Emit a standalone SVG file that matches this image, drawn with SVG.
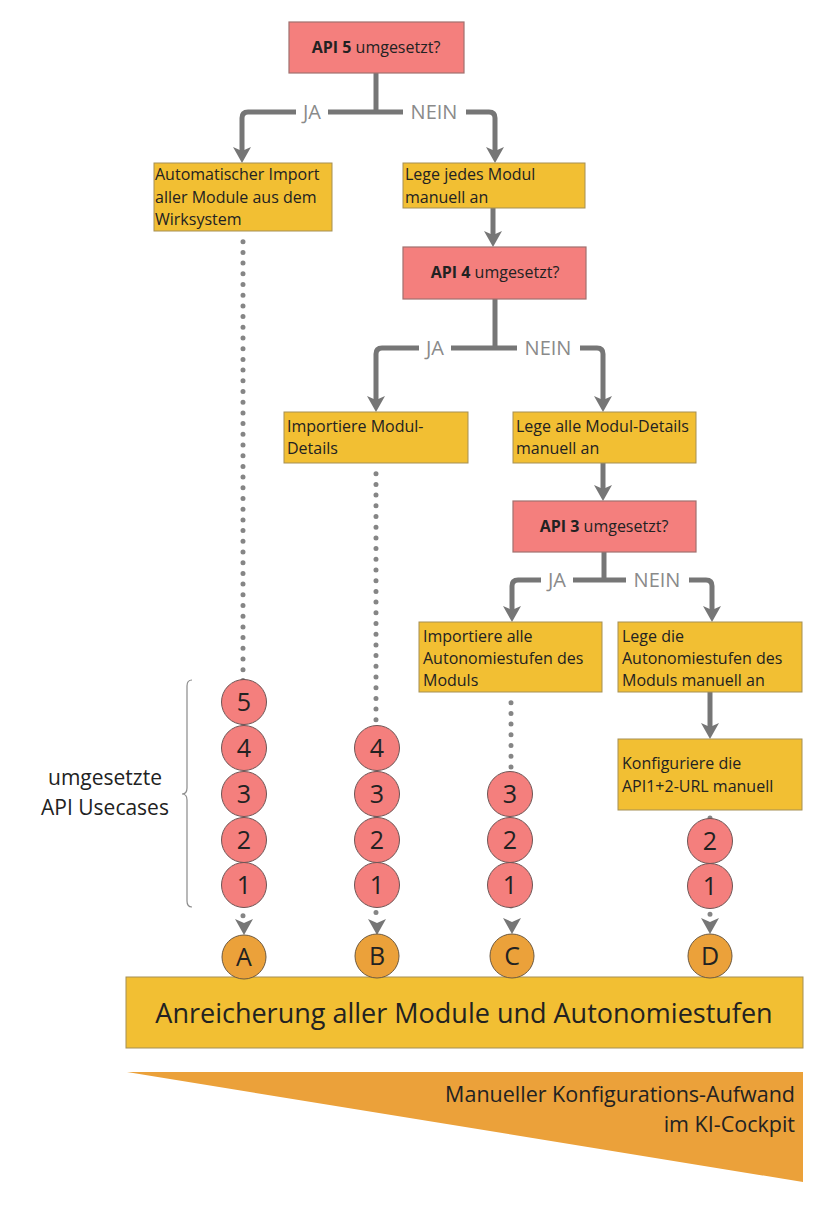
<svg xmlns="http://www.w3.org/2000/svg" width="836" height="1209" viewBox="0 0 836 1209">
<defs>
<style>
.q{fill:#F47F7D;stroke:#A0706E;stroke-width:1.2}
.y{fill:#F2BF33;stroke:#A58F55;stroke-width:1}
.r{fill:#F47F7D;stroke:#6E5555;stroke-width:1}
.o{fill:#EBA13A;stroke:#6E5A40;stroke-width:1}
.t{font-family:"Open Sans","Liberation Sans",sans-serif;font-size:16px;fill:#222}
.b{font-weight:bold}
.n{font-family:"Open Sans","Liberation Sans",sans-serif;font-size:25px;fill:#222;text-anchor:middle}
.lbl{font-family:"Open Sans","Liberation Sans",sans-serif;font-size:20px;fill:#8A8A8A;text-anchor:middle}
.c{fill:none;stroke:#767676;stroke-width:5;stroke-linejoin:round}
.d{fill:none;stroke:#858585;stroke-width:5;stroke-linecap:round;stroke-dasharray:0 10.7}
</style>
<marker id="ah" markerUnits="userSpaceOnUse" markerWidth="16" markerHeight="18" viewBox="0 0 16 18" refX="8" refY="9" orient="auto">
<path d="M0,0 L16,9 L0,18 L4,9 Z" fill="#767676"/>
</marker>
</defs>
<rect width="836" height="1209" fill="#fff"/>

<g id="connectors">
<path class="c" d="M376,73 V112"/>
<path class="c" d="M376,112 H248 Q242,112 242,118 V155" marker-end="url(#ah)"/>
<path class="c" d="M376,112 H489 Q495,112 495,118 V155" marker-end="url(#ah)"/>
<rect x="296" y="98" width="32" height="28" fill="#fff"/>
<rect x="403" y="98" width="63" height="28" fill="#fff"/>
<text class="lbl" x="312" y="119">JA</text>
<text class="lbl" x="434" y="119">NEIN</text>

<path class="c" d="M493,208 V239" marker-end="url(#ah)"/>

<path class="c" d="M495,299 V348"/>
<path class="c" d="M495,348 H382 Q376,348 376,354 V404" marker-end="url(#ah)"/>
<path class="c" d="M495,348 H597 Q603,348 603,354 V404" marker-end="url(#ah)"/>
<rect x="419" y="334" width="32" height="28" fill="#fff"/>
<rect x="517" y="334" width="63" height="28" fill="#fff"/>
<text class="lbl" x="435" y="355">JA</text>
<text class="lbl" x="548" y="355">NEIN</text>

<path class="c" d="M603,463 V493" marker-end="url(#ah)"/>

<path class="c" d="M604,552 V580"/>
<path class="c" d="M604,580 H518 Q512,580 512,586 V614" marker-end="url(#ah)"/>
<path class="c" d="M604,580 H706 Q712,580 712,586 V614" marker-end="url(#ah)"/>
<rect x="541" y="566" width="32" height="28" fill="#fff"/>
<rect x="626" y="566" width="63" height="28" fill="#fff"/>
<text class="lbl" x="557" y="587">JA</text>
<text class="lbl" x="657" y="587">NEIN</text>

<path class="c" d="M710,692 V731" marker-end="url(#ah)"/>

<path class="d" d="M243,241.7 V916" />
<path class="c" d="M244,925 V927" marker-end="url(#ah)"/>
<path class="d" d="M376,473.7 V916" />
<path class="c" d="M377,925 V927" marker-end="url(#ah)"/>
<path class="d" d="M511,702.7 V916" />
<path class="c" d="M512,924 V926" marker-end="url(#ah)"/>
<path class="d" d="M710,818 V916" />
<path class="c" d="M710,924 V926" marker-end="url(#ah)"/>
</g>

<g id="q-api5"><rect class="q" x="289" y="22" width="175" height="51"/>
<text class="t" x="376" y="53" text-anchor="middle"><tspan class="b">API 5</tspan> umgesetzt?</text></g>
<g id="a-import-all"><rect class="y" x="154" y="163" width="178" height="68"/>
<text class="t" x="156"><tspan x="155" y="180">Automatischer Import</tspan><tspan x="155" y="203">aller Module aus dem</tspan><tspan x="155" y="225">Wirksystem</tspan></text></g>
<g id="a-manual-module"><rect class="y" x="403" y="163" width="182" height="45"/>
<text class="t"><tspan x="405" y="180">Lege jedes Modul</tspan><tspan x="405" y="203">manuell an</tspan></text></g>

<g id="q-api4"><rect class="q" x="403" y="247" width="183" height="52"/>
<text class="t" x="495" y="278" text-anchor="middle"><tspan class="b">API 4</tspan> umgesetzt?</text></g>
<g id="b-import-details"><rect class="y" x="284" y="412" width="184" height="51"/>
<text class="t"><tspan x="287" y="432">Importiere Modul-</tspan><tspan x="287" y="454">Details</tspan></text></g>
<g id="b-manual-details"><rect class="y" x="513" y="412" width="183" height="51"/>
<text class="t"><tspan x="516" y="432">Lege alle Modul-Details</tspan><tspan x="516" y="454">manuell an</tspan></text></g>

<g id="q-api3"><rect class="q" x="513" y="501" width="183" height="51"/>
<text class="t" x="604" y="532" text-anchor="middle"><tspan class="b">API 3</tspan> umgesetzt?</text></g>
<g id="c-import-levels"><rect class="y" x="419" y="622" width="183" height="70"/>
<text class="t"><tspan x="423" y="642">Importiere alle</tspan><tspan x="423" y="664">Autonomiestufen des</tspan><tspan x="423" y="686">Moduls</tspan></text></g>
<g id="c-manual-levels"><rect class="y" x="618" y="622" width="184" height="70"/>
<text class="t"><tspan x="622" y="642">Lege die</tspan><tspan x="622" y="664">Autonomiestufen des</tspan><tspan x="622" y="686">Moduls manuell an</tspan></text></g>
<g id="d-config-url"><rect class="y" x="618" y="739" width="184" height="71"/>
<text class="t"><tspan x="622" y="769">Konfiguriere die</tspan><tspan x="622" y="792">API1+2-URL manuell</tspan></text></g>

<g id="col-a">
<circle class="r" cx="244" cy="702" r="22.5"/><text class="n" x="244" y="711">5</text>
<circle class="r" cx="244" cy="748" r="22.5"/><text class="n" x="244" y="757">4</text>
<circle class="r" cx="244" cy="794" r="22.5"/><text class="n" x="244" y="803">3</text>
<circle class="r" cx="244" cy="840" r="22.5"/><text class="n" x="244" y="849">2</text>
<circle class="r" cx="244" cy="885" r="22.5"/><text class="n" x="244" y="894">1</text>
</g>
<g id="col-b">
<circle class="r" cx="377" cy="748" r="22.5"/><text class="n" x="377" y="757">4</text>
<circle class="r" cx="377" cy="794" r="22.5"/><text class="n" x="377" y="803">3</text>
<circle class="r" cx="377" cy="840" r="22.5"/><text class="n" x="377" y="849">2</text>
<circle class="r" cx="377" cy="885" r="22.5"/><text class="n" x="377" y="894">1</text>
</g>
<g id="col-c">
<circle class="r" cx="510" cy="794" r="22.5"/><text class="n" x="510" y="803">3</text>
<circle class="r" cx="510" cy="840" r="22.5"/><text class="n" x="510" y="849">2</text>
<circle class="r" cx="510" cy="885" r="22.5"/><text class="n" x="510" y="894">1</text>
</g>
<g id="col-d">
<circle class="r" cx="710" cy="841" r="22.5"/><text class="n" x="710" y="850">2</text>
<circle class="r" cx="710" cy="886" r="22.5"/><text class="n" x="710" y="895">1</text>
</g>

<g id="brace">
<path d="M192,680 Q187,680 187,686 V788 Q187,794 182,794 Q187,794 187,800 V901 Q187,907 192,907" fill="none" stroke="#8A8A8A" stroke-width="1.2"/>
<text font-family="Open Sans, Liberation Sans, sans-serif" font-size="21" fill="#222" text-anchor="middle"><tspan x="105" y="785">umgesetzte</tspan><tspan x="105" y="815">API Usecases</tspan></text>
</g>

<g id="result">
<rect class="y" x="126" y="977" width="677" height="71" stroke="#8A8A70"/>
<text font-family="Open Sans, Liberation Sans, sans-serif" font-size="27" fill="#222" text-anchor="middle" x="464" y="1023">Anreicherung aller Module und Autonomiestufen</text>
</g>

<g id="endpoints">
<circle class="o" cx="244" cy="957" r="22"/><text class="n" x="244" y="966">A</text>
<circle class="o" cx="377" cy="956" r="22"/><text class="n" x="377" y="965">B</text>
<circle class="o" cx="512" cy="956" r="22"/><text class="n" x="512" y="965">C</text>
<circle class="o" cx="710" cy="956" r="22"/><text class="n" x="710" y="965">D</text>
</g>

<g id="effort">
<polygon points="127,1072 803,1072 803,1182" fill="#EBA13A"/>
<text font-family="Open Sans, Liberation Sans, sans-serif" font-size="21.5" fill="#222" text-anchor="end"><tspan x="795" y="1102">Manueller Konfigurations-Aufwand</tspan><tspan x="795" y="1132">im KI-Cockpit</tspan></text>
</g>
</svg>
